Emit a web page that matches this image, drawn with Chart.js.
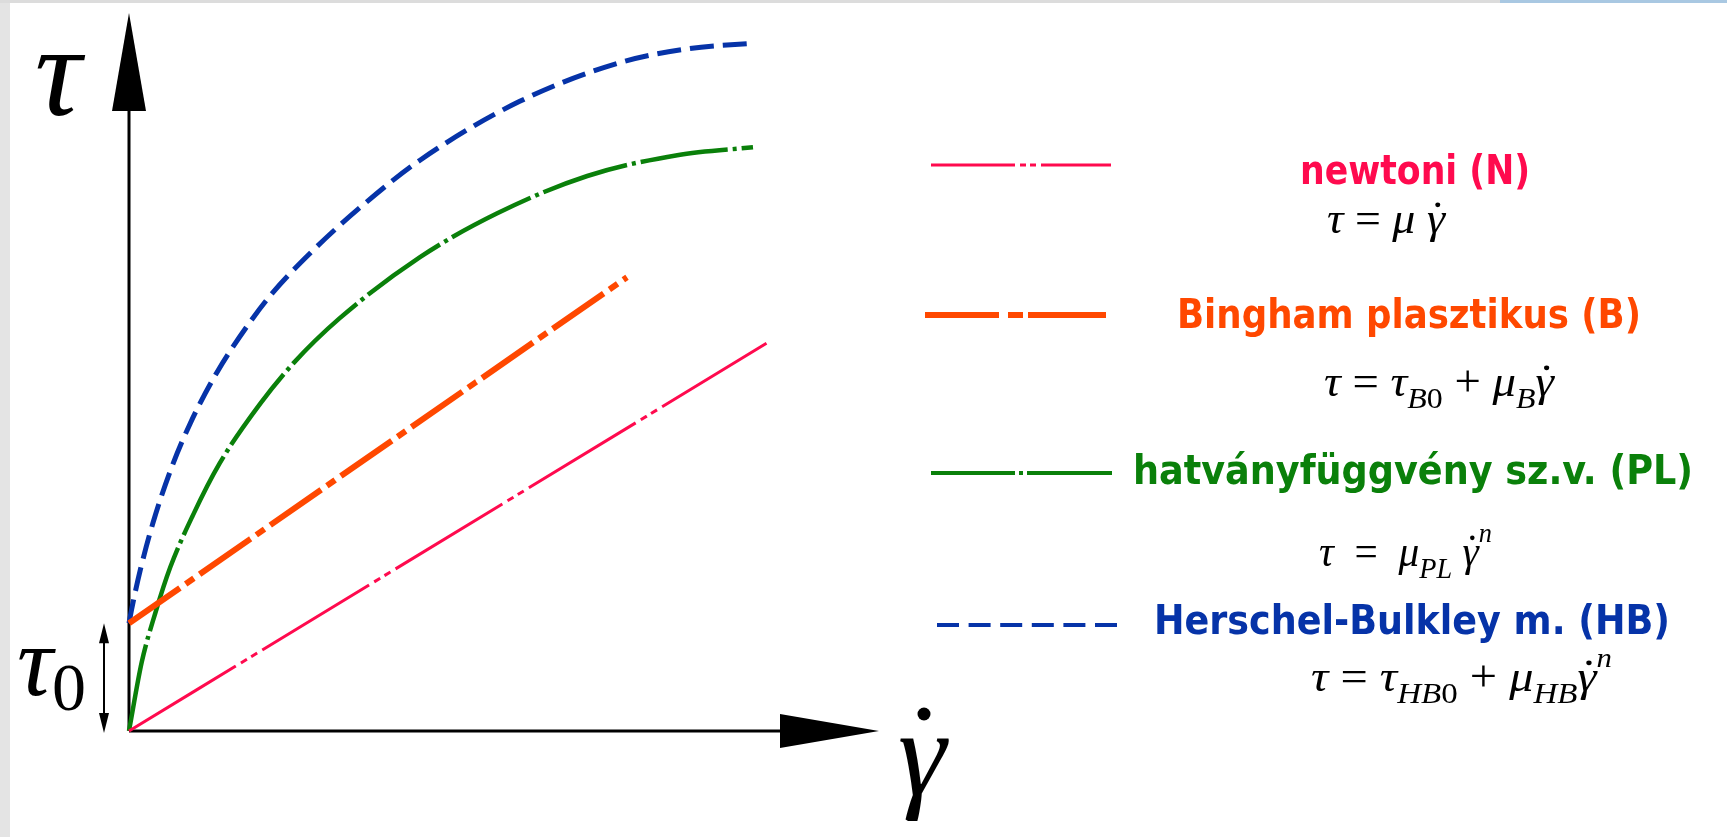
<!DOCTYPE html>
<html>
<head>
<meta charset="utf-8">
<script src="https://cdn.jsdelivr.net/npm/chart.js@4"></script>
<style>
  html, body { margin: 0; padding: 0; background: #fff; overflow: hidden; }
  canvas { display: block; }
</style>
</head>
<body>
<canvas id="chart" width="1727" height="837"></canvas>
<script>
// shear rate (x) and shear stress (y) in arbitrary units
const newtonX = [0, 85];
const newtonY = [0, 54];
const binghamX = [0, 66.4];
const binghamY = [15, 63.2];
const plX = [0, 1.7, 3.5, 5.5, 8.5, 12.1, 17.5, 21.9, 28.1, 38.8, 49.1, 61.1, 73.1, 83.2];
const plY = [0, 9.6, 16.4, 22.8, 30.0, 37.3, 45.6, 51.2, 57.5, 66.0, 72.1, 77.3, 80.2, 81.3];
const hbX = [0, 0.4, 1.5, 3.2, 5.5, 8.1, 11.7, 16.1, 19.2, 24.5, 30.8, 38.8, 52.1, 65.5, 74.4, 83.2];
const hbY = [15, 17.2, 22.4, 29.0, 36.2, 42.7, 49.9, 56.9, 61.1, 66.9, 72.9, 79.5, 87.7, 93.1, 95.0, 95.8];

const seriesNames = ['newtoni (N)', 'Bingham plasztikus (B)', 'hatványfüggvény sz.v. (PL)', 'Herschel-Bulkley m. (HB)'];
const seriesColors = ['#ff0a4e', '#ff4800', '#0a800a', '#0633a8'];

function toPoints(xs, ys) {
  return xs.map((x, i) => ({ x: x, y: ys[i] }));
}

const SANS = '"DejaVu Sans Condensed", "Liberation Sans Narrow", "DejaVu Sans", sans-serif';
const SERIF = '"Liberation Serif", "DejaVu Serif", serif';

// draw text stretched/squeezed to a given width
function fitText(ctx, text, x, y, w, font, color) {
  ctx.save();
  ctx.font = font;
  ctx.fillStyle = color;
  ctx.textBaseline = 'alphabetic';
  ctx.textAlign = 'left';
  let natural = ctx.measureText(text).width;
  ctx.translate(x, y);
  ctx.scale(w / natural, 1);
  ctx.fillText(text, 0, 0);
  ctx.restore();
}

// small formula typesetter: parts = [{t, it, s, dy, dot}]
function drawMath(ctx, x, y, parts, targetW) {
  ctx.save();
  ctx.fillStyle = '#000';
  ctx.textBaseline = 'alphabetic';
  ctx.textAlign = 'left';
  let total = 0;
  parts.forEach(p => {
    ctx.font = (p.it ? 'italic ' : '') + (p.s || 44) + 'px ' + SERIF;
    p.w = ctx.measureText(p.t).width;
    total += p.w;
  });
  let k = targetW ? targetW / total : 1;
  ctx.translate(x, y);
  ctx.scale(k, 1);
  let cx = 0;
  parts.forEach(p => {
    let s = p.s || 44;
    ctx.font = (p.it ? 'italic ' : '') + s + 'px ' + SERIF;
    ctx.fillText(p.t, cx, p.dy || 0);
    if (p.dot) {
      ctx.beginPath();
      ctx.arc(cx + p.w * 0.6, -s * 0.64, s * 0.055, 0, Math.PI * 2);
      ctx.fill();
    }
    cx += p.w;
  });
  ctx.restore();
}

function legendLine(ctx, x1, x2, y, color, width, dash) {
  ctx.save();
  ctx.strokeStyle = color;
  ctx.lineWidth = width;
  ctx.setLineDash(dash);
  ctx.beginPath();
  ctx.moveTo(x1, y);
  ctx.lineTo(x2, y);
  ctx.stroke();
  ctx.restore();
}

const sketchPlugin = {
  id: 'sketch',
  beforeDraw(chart) {
    const ctx = chart.ctx;
    ctx.save();
    ctx.fillStyle = '#fff';
    ctx.fillRect(0, 0, chart.width, chart.height);
    ctx.fillStyle = '#e4e4e4';
    ctx.fillRect(0, 0, 10, chart.height);
    ctx.fillStyle = '#dcdcdc';
    ctx.fillRect(0, 0, chart.width, 3);
    ctx.fillStyle = '#a9c8e2';
    ctx.fillRect(1500, 0, chart.width - 1500, 3);
    ctx.restore();
  },
  beforeDatasetsDraw(chart) {
    const ctx = chart.ctx;
    const xs = chart.scales.x, ys = chart.scales.y;
    const ox = xs.getPixelForValue(0), oy = ys.getPixelForValue(0);
    const right = xs.getPixelForValue(100), top = ys.getPixelForValue(100);
    ctx.save();
    ctx.strokeStyle = '#000';
    ctx.fillStyle = '#000';
    ctx.lineWidth = 3;
    // axes
    ctx.beginPath();
    ctx.moveTo(ox, oy);
    ctx.lineTo(ox, top + 98);
    ctx.moveTo(ox, oy);
    ctx.lineTo(right - 99, oy);
    ctx.stroke();
    ctx.beginPath();
    ctx.moveTo(ox, top);
    ctx.lineTo(ox - 17, top + 98);
    ctx.lineTo(ox + 17, top + 98);
    ctx.closePath();
    ctx.fill();
    ctx.beginPath();
    ctx.moveTo(right, oy);
    ctx.lineTo(right - 99, oy - 17);
    ctx.lineTo(right - 99, oy + 17);
    ctx.closePath();
    ctx.fill();

    // tau0 double arrow
    const t0 = ys.getPixelForValue(binghamY[0]);
    const ax = ox - 25;
    ctx.lineWidth = 2;
    ctx.beginPath();
    ctx.moveTo(ax, t0 + 18);
    ctx.lineTo(ax, oy - 18);
    ctx.stroke();
    ctx.beginPath();
    ctx.moveTo(ax, t0);
    ctx.lineTo(ax - 5, t0 + 20);
    ctx.lineTo(ax + 5, t0 + 20);
    ctx.closePath();
    ctx.fill();
    ctx.beginPath();
    ctx.moveTo(ax, oy + 2);
    ctx.lineTo(ax - 5, oy - 18);
    ctx.lineTo(ax + 5, oy - 18);
    ctx.closePath();
    ctx.fill();

    // axis symbols
    ctx.textAlign = 'center';
    ctx.textBaseline = 'alphabetic';
    ctx.font = 'italic 130px ' + SERIF;
    ctx.fillText('τ', 58, 115);
    ctx.font = 'italic 100px ' + SERIF;
    ctx.fillText('τ', 35, 695);
    ctx.font = '68px ' + SERIF;
    ctx.fillText('0', 69, 710);
    ctx.font = 'italic 122px ' + SERIF;
    ctx.fillText('γ', 922, 795);
    ctx.beginPath();
    ctx.arc(924, 714, 6.5, 0, Math.PI * 2);
    ctx.fill();
    ctx.restore();
  },
  afterDraw(chart) {
    const ctx = chart.ctx;
    const bold = 'bold 41px ' + SANS;

    legendLine(ctx, 931, 1111, 165, seriesColors[0], 3, [84, 5, 6, 4, 6, 5, 300]);
    fitText(ctx, seriesNames[0], 1300, 184, 230, bold, seriesColors[0]);
    drawMath(ctx, 1327, 233, [
      { t: 'τ', it: true }, { t: ' = ' }, { t: 'μ', it: true }, { t: ' ' },
      { t: 'γ', it: true, dot: true }
    ], 118);

    legendLine(ctx, 925, 1106, 315, seriesColors[1], 6, [74, 9, 15, 5, 300]);
    fitText(ctx, seriesNames[1], 1177, 328, 464, bold, seriesColors[1]);
    drawMath(ctx, 1324, 396, [
      { t: 'τ', it: true }, { t: ' = ' }, { t: 'τ', it: true },
      { t: 'B', it: true, s: 30, dy: 12 }, { t: '0', s: 30, dy: 12 },
      { t: ' + ' }, { t: 'μ', it: true }, { t: 'B', it: true, s: 30, dy: 12 },
      { t: 'γ', it: true, dot: true }
    ], 230);

    legendLine(ctx, 931, 1112, 473, seriesColors[2], 4, [84, 4, 4, 4, 300]);
    fitText(ctx, seriesNames[2], 1133, 484, 560, bold, seriesColors[2]);
    drawMath(ctx, 1319, 566, [
      { t: 'τ', it: true }, { t: '  =  ' }, { t: 'μ', it: true },
      { t: 'PL', it: true, s: 30, dy: 12 }, { t: ' ' },
      { t: 'γ', it: true, dot: true }, { t: 'n', it: true, s: 28, dy: -24 }
    ], 173);

    legendLine(ctx, 937, 1117, 625, seriesColors[3], 4, [22, 9.6]);
    fitText(ctx, seriesNames[3], 1154, 634, 516, bold, seriesColors[3]);
    drawMath(ctx, 1311, 691, [
      { t: 'τ', it: true }, { t: ' = ' }, { t: 'τ', it: true },
      { t: 'HB', it: true, s: 30, dy: 12 }, { t: '0', s: 30, dy: 12 },
      { t: ' + ' }, { t: 'μ', it: true }, { t: 'HB', it: true, s: 30, dy: 12 },
      { t: 'γ', it: true, dot: true }, { t: 'n', it: true, s: 28, dy: -24 }
    ], 301);
  }
};

const lineStyle = (label, color, width, dash) => ({
  label: label,
  borderColor: color,
  backgroundColor: color,
  borderWidth: width,
  borderDash: dash,
  pointRadius: 0,
  showLine: true,
  fill: false,
  clip: false,
  cubicInterpolationMode: 'monotone'
});

const ctx = document.getElementById('chart').getContext('2d');
const chart = new Chart(ctx, {
  type: 'scatter',
  data: {
    datasets: [
      Object.assign(lineStyle(seriesNames[0], seriesColors[0], 3, [125, 6, 7, 5, 7, 6]), { data: toPoints(newtonX, newtonY) }),
      Object.assign(lineStyle(seriesNames[1], seriesColors[1], 6, [62, 7, 10, 7]), { data: toPoints(binghamX, binghamY) }),
      Object.assign(lineStyle(seriesNames[2], seriesColors[2], 4.5, [88, 5, 4, 5]), { data: toPoints(plX, plY) }),
      Object.assign(lineStyle(seriesNames[3], seriesColors[3], 5, [24, 9]), { data: toPoints(hbX, hbY) })
    ]
  },
  options: {
    responsive: false,
    animation: false,
    devicePixelRatio: 1,
    layout: { padding: { left: 129, right: 848, top: 13, bottom: 106 } },
    plugins: { legend: { display: false }, tooltip: { enabled: false } },
    scales: {
      x: { type: 'linear', min: 0, max: 100, display: false },
      y: { type: 'linear', min: 0, max: 100, display: false }
    }
  },
  plugins: [sketchPlugin]
});
</script>
</body>
</html>
